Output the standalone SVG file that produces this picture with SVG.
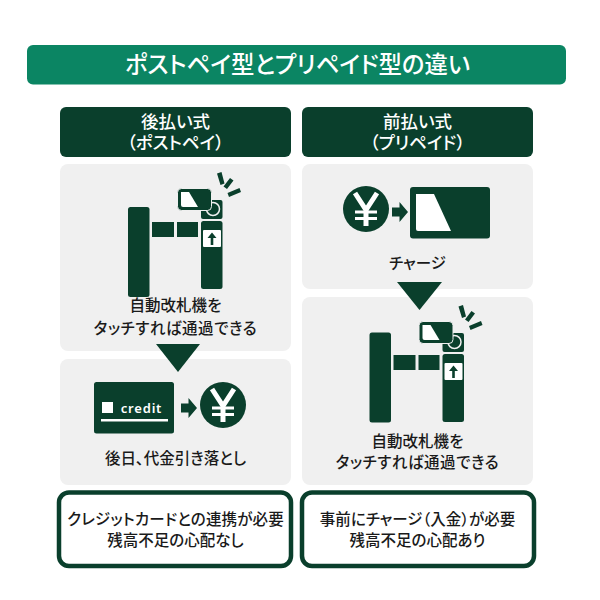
<svg xmlns="http://www.w3.org/2000/svg" width="600" height="600" viewBox="0 0 600 600">
<style>
text{font-family:"Noto Sans CJK JP","Noto Sans",sans-serif;text-anchor:middle;font-weight:500;fill:#1a1a1a;font-feature-settings:"palt"}
.w{fill:#fff}
.d{fill:#0a3f2c}
.p{fill:#f0f0f0}
.t{font-size:15.500px}
.k{letter-spacing:.55px}
.h{font-size:17.500px;fill:#fff}
.b{fill:#fff;stroke:#0a3f2c;stroke-width:4.500}
.wl{fill:none;stroke:#fff;stroke-width:2}
</style>
<defs>
<rect id="post" class="d" x="128" y="207" width="21.500" height="90" rx="2.500"/>
<g id="gate">
<rect class="d" x="152" y="222" width="22" height="15"/>
<rect class="d" x="177" y="222" width="21" height="15"/>
<rect class="d" x="201" y="221" width="21.500" height="68" rx="2.500"/>
<rect class="w" x="203" y="230" width="18" height="17" rx="1"/>
<path class="d" d="M212 232.500l4.500 5.500h-3.200v7h-2.600v-7h-3.200z"/>
<rect class="d" x="201" y="200" width="21.500" height="19" rx="2"/>
<circle cx="213" cy="209" r="6.500" fill="none" stroke="#f0f0f0" stroke-width="1.500"/>
<rect class="d" x="177.500" y="188.500" width="34" height="22" rx="4" stroke="#f0f0f0" stroke-width="1"/>
<path class="w" d="M181 192h8l9 15h-15q-2 0-2-2z"/>
<path class="d" d="M217 173.500l4.500-1.500 3 11.500-4 1.500zM223.500 186.500l6.500-8.500 3.500 2.500-6.500 8.500zM227.500 193l12-5 1.500 4-12 5z"/>
</g>
<g id="yen">
<circle class="d" cx="0" cy="0" r="23"/>
<path class="wl" style="stroke-width:5" d="M-11 -16L0 1 11 -16M0 1V17"/>
<path class="wl" style="stroke-width:3.200" d="M-11 3H11M-11 9.500H11"/>
</g>
<path id="arr" class="d" d="M0 -4.500H7.500V-10L16 0 7.500 10V4.500H0z"/>
</defs>
<rect width="600" height="600" fill="#fff"/>
<g id="title">
<rect x="27" y="45" width="539" height="39.500" rx="6" fill="#0b8563"/>
<text x="297.500" y="73" style="font-size:23.400px;fill:#fff">ポストペイ型とプリペイド型の違い</text>
</g>
<g id="header-left">
<rect class="d" x="60" y="107" width="231" height="50" rx="6"/>
<text class="h" x="175.500" y="128">後払い式</text>
<text class="h" x="175.500" y="149">（ポストペイ）</text>
</g>
<g id="header-right">
<rect class="d" x="302" y="107" width="231" height="50" rx="6"/>
<text class="h" x="417.500" y="128">前払い式</text>
<text class="h" x="417.500" y="149">（プリペイド）</text>
</g>
<g id="left-gate">
<rect class="p" x="60" y="164" width="231" height="187" rx="8"/>
<use href="#post"/>
<use href="#gate"/>
<text class="t" x="175.500" y="311">自動改札機を</text>
<text class="t k" x="175.500" y="334">タッチすれば通過できる</text>
</g>
<g id="left-credit">
<rect class="p" x="60" y="359" width="231" height="126" rx="8"/>
<rect class="d" x="94" y="382" width="80" height="51.500" rx="2.500"/>
<rect class="w" x="102" y="402" width="11" height="11"/>
<text x="141.500" y="413" style="font-size:13px;font-weight:600;fill:#fff;font-family:'Noto Sans',sans-serif;letter-spacing:.8px">credit</text>
<rect class="w" x="101" y="419" width="67" height="2.500"/>
<use href="#arr" x="181" y="408"/>
<use href="#yen" x="223" y="405"/>
<text class="t" x="175.500" y="464">後日、代金引き落とし</text>
</g>
<g id="right-charge">
<rect class="p" x="302" y="164" width="231" height="125" rx="8"/>
<use href="#yen" x="366" y="209"/>
<use href="#arr" x="392" y="212"/>
<rect class="d" x="410" y="187" width="80" height="51.500" rx="3"/>
<path class="w" d="M416 194h18l17 37h-33q-2 0-2-2z"/>
<text class="t" x="417.500" y="269">チャージ</text>
</g>
<g id="right-gate">
<rect class="p" x="302" y="297" width="231" height="188" rx="8"/>
<use href="#post" x="241.500" y="125.500"/>
<use href="#gate" x="241.500" y="133"/>
<text class="t" x="417.500" y="446.500">自動改札機を</text>
<text class="t k" x="417.500" y="468">タッチすれば通過できる</text>
</g>
<g id="connectors">
<path class="d" d="M156 344H200L178 372z"/>
<path class="d" d="M397 282H442L419.500 310z"/>
</g>
<g id="note-left">
<rect class="b" x="59" y="492.500" width="232" height="73.500" rx="10"/>
<text class="t" style="letter-spacing:.15px" x="175.500" y="525">クレジットカードとの連携が必要</text>
<text class="t" x="175.500" y="546">残高不足の心配なし</text>
</g>
<g id="note-right">
<rect class="b" x="302" y="492.500" width="232" height="73.500" rx="10"/>
<text class="t" x="417.500" y="525">事前にチャージ（入金）が必要</text>
<text class="t" x="417.500" y="546">残高不足の心配あり</text>
</g>
</svg>
